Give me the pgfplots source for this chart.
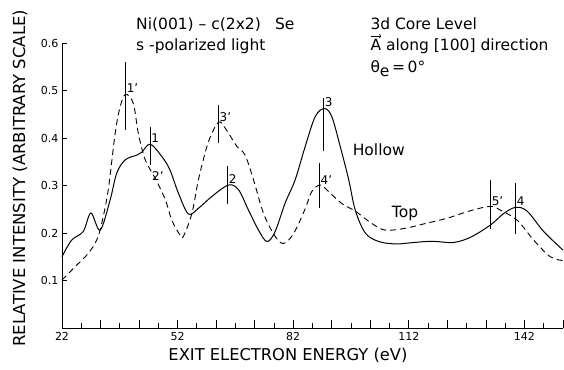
\documentclass[border=0pt]{standalone}
\usepackage{pgfplots}
\pgfplotsset{compat=1.18}
\usepackage{fontspec}
\setmainfont{DejaVu Sans}
\newcommand{\hdr}{\fontsize{15.5}{18}\selectfont}
\newcommand{\lbl}{\fontsize{11}{12}\selectfont}
\newcommand{\pk}{\fontsize{12}{13}\selectfont}
\begin{document}
\begin{tikzpicture}
\useasboundingbox (-62pt,-41pt) rectangle (502pt,328pt);
\begin{axis}[
  scale only axis, width=501pt, height=285pt,
  xmin=22, xmax=152, ymin=0, ymax=0.6,
  axis lines=left, axis line style={-, line width=0.9pt},
  clip=false,
  tick align=inside,
  xtick={22,32,...,152},
  xticklabels={22,{},{},52,{},{},82,{},{},112,{},{},142,{}},
  minor x tick num=1,
  ytick={0.1,0.2,0.3,0.4,0.5,0.6},
  yticklabels={0.1,0.2,0.3,0.4,0.5,0.6},
  minor ytick={0.1,0.2,0.3,0.4,0.5,0.6},
  major y tick style={draw=none},
  major tick length=8pt, minor tick length=5pt,
  tick style={black, line width=0.8pt},
  ticklabel style={font=\lbl},
  /pgf/number format/assume math mode=true,
  xticklabel style={yshift=-1pt},
  xlabel={EXIT ELECTRON ENERGY (eV)},
  xlabel style={at={(axis description cs:0.451,-0.095)}, anchor=center, font=\fontsize{16.3}{18}\selectfont},
  ylabel={RELATIVE INTENSITY (ARBITRARY SCALE)},
  ylabel style={at={(axis description cs:-0.084,0.526)}, anchor=center, font=\fontsize{16.5}{18}\selectfont},
]
% Hollow (solid)
\addplot[black, line width=1pt, smooth, tension=0.55] coordinates {
(22,0.150) (24.5,0.185) (27.5,0.203) (29.5,0.242) (31.9,0.206) (34.5,0.270)
(36.2,0.326) (38.4,0.354) (41.4,0.364) (42.7,0.370) (44.9,0.387) (47.9,0.361)
(50,0.333) (52.2,0.284) (54.8,0.240) (57.4,0.252) (60.9,0.277)
(65.2,0.301) (67.8,0.291) (70.4,0.248) (73,0.206) (75.2,0.182) (77.3,0.203)
(79.9,0.263) (82.5,0.312) (85.1,0.382) (87.7,0.445) (90.1,0.462) (92,0.445)
(94.2,0.382) (96.4,0.312) (98.1,0.248) (100.7,0.200) (104.2,0.182) (108.5,0.177)
(112,0.179) (116.3,0.182) (119.3,0.182) (123.6,0.180) (128,0.191) (133.2,0.217)
(136.6,0.241) (139.7,0.254) (142.7,0.246) (147,0.203) (152,0.164)
};
% Top (dashed)
\addplot[black, line width=0.9pt, dash pattern=on 6pt off 4pt, smooth, tension=0.55] coordinates {
(22,0.101) (25.4,0.129) (28.8,0.157) (31,0.185) (32.3,0.220) (34,0.291)
(35.8,0.410) (37.1,0.466) (38.5,0.492) (40.5,0.473) (41.8,0.410) (43.6,0.354)
(46.2,0.315) (48.8,0.270) (50.5,0.227) (52.6,0.196) (53.5,0.193) (55.7,0.241)
(57.4,0.312) (59.6,0.382) (61.3,0.417) (63,0.434) (65.2,0.410) (67.4,0.382)
(69.5,0.364) (71.7,0.312) (74.3,0.241) (77.3,0.193) (79.5,0.178) (82.1,0.199)
(85.1,0.251) (86.8,0.287) (89,0.301) (91.2,0.287) (94.6,0.262) (98.1,0.246)
(102.4,0.220) (105.9,0.206) (111.1,0.210) (116.3,0.220) (121.9,0.231) (128,0.247)
(133.2,0.256) (135.8,0.248) (140.1,0.227) (144.4,0.185) (148.7,0.150) (152,0.142)
};
% peak markers
\draw[line width=0.8pt] (axis cs:38.5,0.417) -- (axis cs:38.5,0.561);
\node[anchor=west, inner sep=1pt, font=\pk] at (axis cs:38.5,0.505) {1'};
\draw[line width=0.8pt] (axis cs:44.9,0.343) -- (axis cs:44.9,0.424);
\node[anchor=west, inner sep=1pt, font=\pk] at (axis cs:44.9,0.400) {1};
\node[inner sep=1pt, font=\pk] at (axis cs:46.9,0.319) {2'};
\draw[line width=0.8pt] (axis cs:62.6,0.389) -- (axis cs:62.6,0.469);
\node[anchor=west, inner sep=1pt, font=\pk] at (axis cs:62.6,0.444) {3'};
\draw[line width=0.8pt] (axis cs:65,0.261) -- (axis cs:65,0.341);
\node[anchor=west, inner sep=1pt, font=\pk] at (axis cs:65,0.313) {2};
\draw[line width=0.8pt] (axis cs:89.9,0.373) -- (axis cs:89.9,0.484);
\node[anchor=west, inner sep=1pt, font=\pk] at (axis cs:89.9,0.475) {3};
\draw[line width=0.8pt] (axis cs:88.8,0.252) -- (axis cs:88.8,0.347);
\node[anchor=west, inner sep=1pt, font=\pk] at (axis cs:88.8,0.312) {4'};
\draw[line width=0.8pt] (axis cs:133.2,0.208) -- (axis cs:133.2,0.312);
\node[anchor=west, inner sep=1pt, font=\pk] at (axis cs:133.2,0.266) {5'};
\draw[line width=0.8pt] (axis cs:139.7,0.197) -- (axis cs:139.7,0.305);
\node[anchor=west, inner sep=1pt, font=\pk] at (axis cs:139.7,0.268) {4};
% curve names
\node[font=\hdr] at (axis cs:104.2,0.375) {Hollow};
\node[font=\hdr] at (axis cs:111,0.241) {Top};
% header
\node[anchor=base west, inner sep=0pt, font=\hdr] at (axis cs:41.2,0.629) {Ni(001) – c(2x2)\hspace{0.6em} Se};
\node[anchor=base west, inner sep=0pt, font=\hdr] at (axis cs:41.2,0.585) {s -polarized light};
\node[anchor=base west, inner sep=0pt, font=\hdr] at (axis cs:102,0.629) {3d Core Level};
\node[anchor=base west, inner sep=0pt, font=\hdr] (Aline) at (axis cs:102,0.585) {A along [100] direction};
\draw[->, line width=0.6pt] ([xshift=0.3pt, yshift=14pt]Aline.base west) -- ([xshift=11pt, yshift=14pt]Aline.base west);
\node[anchor=base west, inner sep=0pt, font=\hdr] at (axis cs:102,0.537) {θ\raisebox{-0.45ex}{e}\,=\,0°};
\end{axis}
\end{tikzpicture}
\end{document}
